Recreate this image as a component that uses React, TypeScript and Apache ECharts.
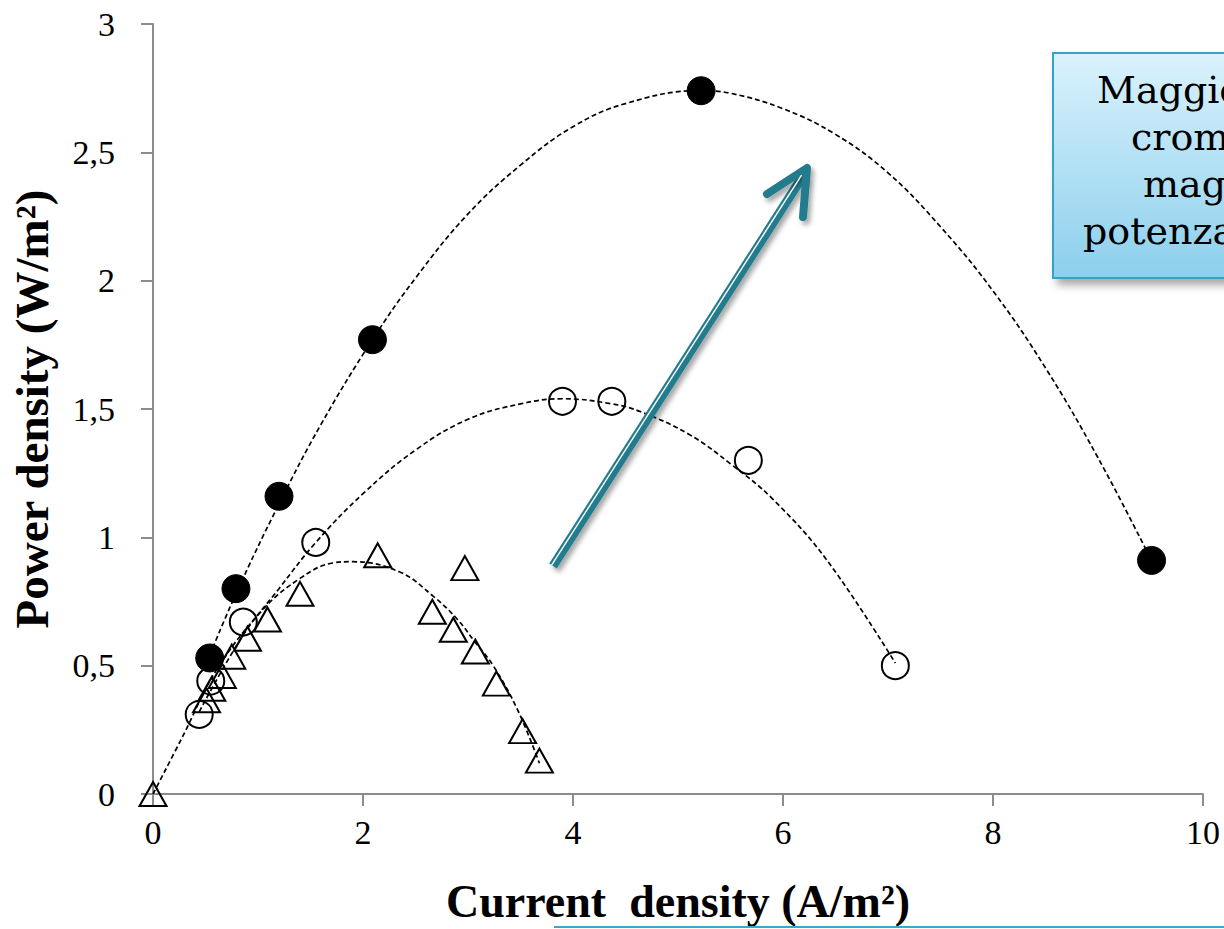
import React, { useEffect, useRef } from "react";
import * as echarts from "echarts";

// Measured points: [current density A/m², power density W/m²]
const chromeHigh: number[][] = [
  [0.54, 0.53], [0.79, 0.8], [1.2, 1.16], [2.09, 1.77], [5.22, 2.74], [9.51, 0.91],
];
const chromeMid: number[][] = [
  [0.44, 0.31], [0.55, 0.44], [0.86, 0.67], [1.55, 0.98], [3.9, 1.53], [4.37, 1.53], [5.67, 1.3], [7.07, 0.5],
];
const chromeLow: number[][] = [
  [0, 0], [0.51, 0.365], [0.56, 0.41], [0.66, 0.46], [0.75, 0.535], [0.9, 0.605], [1.09, 0.68],
  [1.4, 0.78], [2.14, 0.93], [2.97, 0.88], [2.66, 0.71], [2.86, 0.64], [3.07, 0.555], [3.27, 0.43],
  [3.52, 0.245], [3.68, 0.13],
];

// Dashed trend curves
const trendHigh: number[][] = [
  [0.54, 0.54], [0.79, 0.78], [1.2, 1.13], [1.6, 1.44], [2.09, 1.77], [2.5, 2.01], [3, 2.26],
  [3.5, 2.45], [4, 2.6], [4.5, 2.69], [5.2, 2.74], [5.5, 2.73], [6, 2.67], [6.5, 2.57], [7, 2.42],
  [7.5, 2.21], [8, 1.96], [8.5, 1.66], [9, 1.31], [9.51, 0.91],
];
const trendMid: number[][] = [
  [0.44, 0.32], [0.86, 0.62], [1.2, 0.8], [1.55, 0.98], [2, 1.17], [2.5, 1.34], [3, 1.46],
  [3.5, 1.52], [3.9, 1.54], [4.37, 1.52], [4.64, 1.49], [5.11, 1.4], [5.52, 1.28], [5.9, 1.15],
  [6.42, 0.91], [7.07, 0.51],
];
const trendLow: number[][] = [
  [0, 0], [0.29, 0.23], [0.6, 0.48], [1.05, 0.72], [1.4, 0.84], [1.71, 0.9], [1.9, 0.905],
  [2.35, 0.865], [2.67, 0.77], [2.9, 0.68], [3.07, 0.59], [3.24, 0.5], [3.47, 0.33], [3.68, 0.12],
];

const xRange = { min: 0, max: 10, step: 2 };
const yRange = { min: 0, max: 3, step: 0.5 };

const xTitle = "Current  density (A/m²)";
const yTitle = "Power density (W/m²)";
const noteLines = ["Maggiore", "cromo", "maggiore", "potenza"];

const SERIF = '"Liberation Serif", "Times New Roman", serif';
const TEAL = "#217b8e";

export default function App() {
  const ref = useRef<HTMLDivElement>(null);

  useEffect(() => {
    if (!ref.current) return;
    const chart = echarts.init(ref.current, undefined, { renderer: "svg" });

    const dashed = {
      type: "line" as const,
      smooth: 0.4,
      showSymbol: false,
      silent: true,
      z: 5,
      lineStyle: { color: "#000", width: 1.7, type: [5, 3] },
    };

    const hollow = { color: "rgba(255,255,255,0)", borderColor: "#000", borderWidth: 2, opacity: 1 };

    const shaftFrom = [553, 566];
    const shaftTo = [803, 176];

    chart.setOption({
      animation: false,
      backgroundColor: "#ffffff",
      grid: { left: 153, right: 21, top: 24, bottom: 133, containLabel: false },
      xAxis: {
        type: "value",
        min: xRange.min,
        max: xRange.max,
        interval: xRange.step,
        name: xTitle,
        nameLocation: "middle",
        nameGap: 84,
        nameTextStyle: { fontFamily: SERIF, fontWeight: "bold", fontSize: 46, color: "#000" },
        axisLine: { lineStyle: { color: "#8c8c8c", width: 2 } },
        axisTick: { show: true, length: 12, lineStyle: { color: "#8c8c8c", width: 2 } },
        axisLabel: { fontFamily: SERIF, fontSize: 34, color: "#000", margin: 21 },
        splitLine: { show: false },
      },
      yAxis: {
        type: "value",
        min: yRange.min,
        max: yRange.max,
        interval: yRange.step,
        name: yTitle,
        nameLocation: "middle",
        nameGap: 98,
        nameTextStyle: { fontFamily: SERIF, fontWeight: "bold", fontSize: 47, color: "#000" },
        axisLine: { show: true, lineStyle: { color: "#8c8c8c", width: 2 } },
        axisTick: { show: true, length: 12, lineStyle: { color: "#8c8c8c", width: 2 } },
        axisLabel: {
          fontFamily: SERIF,
          fontSize: 34,
          color: "#000",
          margin: 38,
          formatter: (v: number) => String(v).replace(".", ","),
        },
        splitLine: { show: false },
      },
      series: [
        {
          type: "scatter",
          data: chromeLow,
          symbol: "triangle",
          symbolSize: [27, 24],
          clip: false,
          itemStyle: hollow,
        },
        {
          type: "scatter",
          data: chromeMid,
          symbol: "circle",
          symbolSize: 27,
          clip: false,
          itemStyle: hollow,
        },
        {
          type: "scatter",
          data: chromeHigh,
          symbol: "circle",
          symbolSize: 28,
          clip: false,
          itemStyle: { color: "#000", borderColor: "#000", borderWidth: 1, opacity: 1 },
        },
        { ...dashed, data: trendLow },
        { ...dashed, data: trendMid },
        { ...dashed, data: trendHigh },
      ],
      graphic: [
        // callout box, running off the right edge
        {
          type: "rect",
          z: 20,
          shape: { x: 1053, y: 53, width: 260, height: 225 },
          style: {
            fill: new echarts.graphic.LinearGradient(0, 0, 0, 1, [
              { offset: 0, color: "#daf2fd" },
              { offset: 1, color: "#8ccfec" },
            ]),
            stroke: "#35a3c3",
            lineWidth: 2,
            shadowBlur: 8,
            shadowOffsetX: 5,
            shadowOffsetY: 6,
            shadowColor: "rgba(0,0,0,0.35)",
          },
        },
        ...noteLines.map((t, i) => ({
          type: "text",
          z: 21,
          x: [1097, 1131, 1143, 1083][i],
          y: 90 + i * 47,
          style: {
            text: t,
            font: '38px "DejaVu Serif", serif',
            fill: "#000",
            align: "left",
            verticalAlign: "middle",
          },
        })),
        // trend arrow
        {
          type: "line",
          z: 22,
          shape: { x1: shaftFrom[0], y1: shaftFrom[1], x2: shaftTo[0], y2: shaftTo[1] },
          style: {
            stroke: TEAL,
            lineWidth: 9,
            shadowBlur: 5,
            shadowOffsetX: 3,
            shadowOffsetY: 4,
            shadowColor: "rgba(0,0,0,0.35)",
          },
        },
        {
          type: "line",
          z: 23,
          shape: { x1: shaftFrom[0] - 1.4, y1: shaftFrom[1] - 0.9, x2: shaftTo[0] - 1.4, y2: shaftTo[1] - 0.9 },
          style: { stroke: "#ffffff", lineWidth: 1.4 },
        },
        {
          type: "polyline",
          z: 22,
          shape: { points: [[767, 194], [807, 168], [803, 217]] },
          style: {
            stroke: TEAL,
            lineWidth: 8,
            lineCap: "round",
            lineJoin: "round",
            fill: "none",
            shadowBlur: 5,
            shadowOffsetX: 3,
            shadowOffsetY: 4,
            shadowColor: "rgba(0,0,0,0.35)",
          },
        },
        // top edge of the box below the chart
        {
          type: "line",
          z: 20,
          shape: { x1: 554, y1: 927, x2: 1224, y2: 927 },
          style: { stroke: "#3aa8c8", lineWidth: 2 },
        },
      ],
    });

    return () => chart.dispose();
  }, []);

  return (
    <div
      ref={ref}
      style={{ position: "absolute", left: 0, top: 0, width: 1224, height: 929 }}
    />
  );
}
